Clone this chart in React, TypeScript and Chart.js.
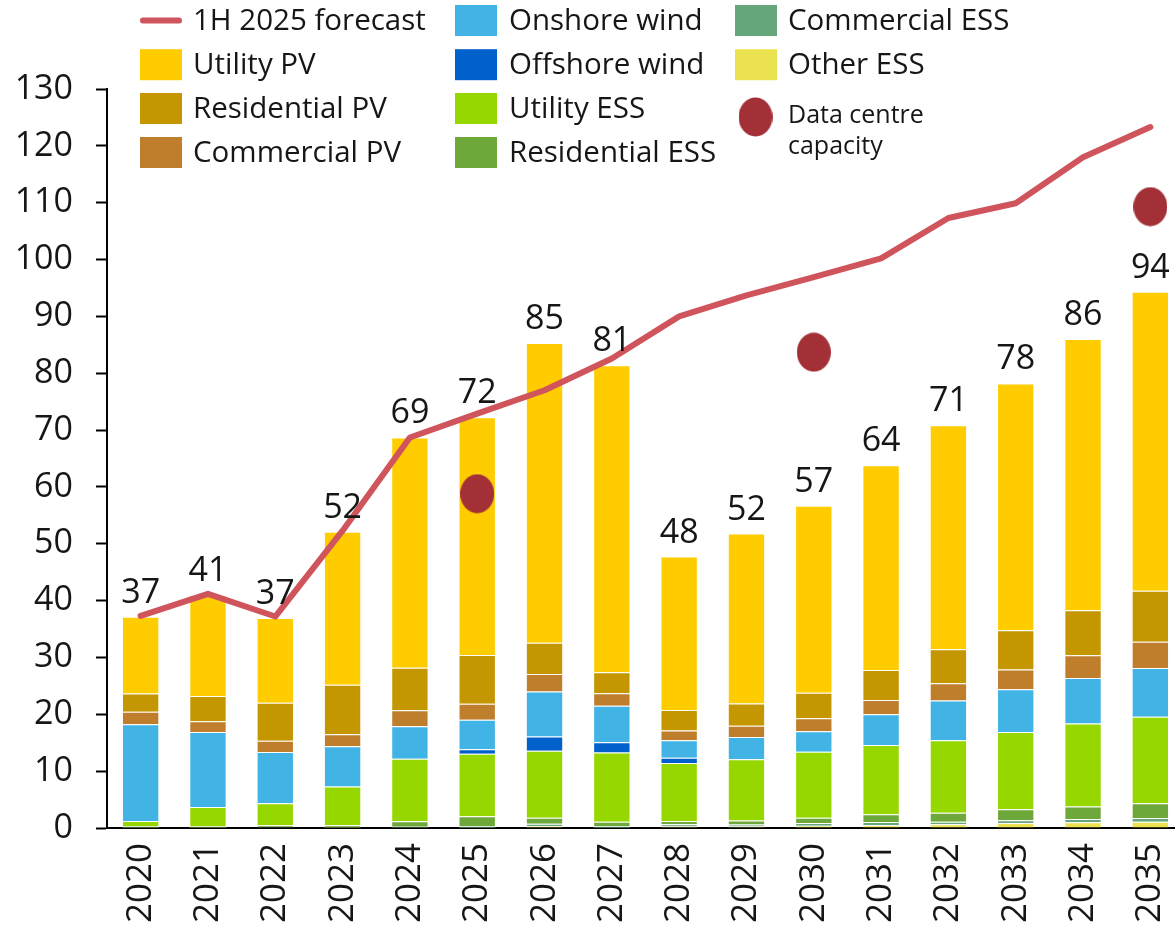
import { useEffect, useRef } from "react";
import { Chart, registerables } from "chart.js";

Chart.register(...registerables);

// ---------- DATA ----------
const years = ["2020", "2021", "2022", "2023", "2024", "2025", "2026", "2027", "2028", "2029", "2030", "2031", "2032", "2033", "2034", "2035"];

const otherESS = [0.02, 0.02, 0.05, 0.02, 0.05, 0.05, 0.35, 0.05, 0.25, 0.25, 0.4, 0.5, 0.65, 0.9, 1.0, 1.1];
const commercialESS = [0.08, 0.08, 0.1, 0.08, 0.15, 0.3, 0.4, 0.3, 0.4, 0.35, 0.5, 0.55, 0.45, 0.45, 0.6, 0.65];
const residentialESS = [0.25, 0.2, 0.35, 0.4, 1.0, 1.7, 1.05, 0.75, 0.6, 0.7, 0.9, 1.35, 1.6, 1.95, 2.2, 2.6];
const utilityESS = [0.9, 3.4, 3.85, 6.8, 11.0, 11.0, 11.8, 12.2, 10.2, 10.8, 11.6, 12.2, 12.75, 13.6, 14.6, 15.2];
const offshoreWind = [0, 0, 0, 0, 0, 0.8, 2.5, 1.8, 0.9, 0, 0, 0, 0, 0, 0, 0];
const onshoreWind = [17.0, 13.2, 9.0, 7.1, 5.7, 5.2, 7.9, 6.4, 3.1, 3.9, 3.6, 5.4, 7.0, 7.5, 8.0, 8.6];
const commercialPV = [2.2, 1.9, 2.0, 2.1, 2.8, 2.8, 3.1, 2.2, 1.7, 2.0, 2.3, 2.5, 3.0, 3.5, 4.0, 4.6];
const residentialPV = [3.2, 4.4, 6.7, 8.7, 7.5, 8.6, 5.5, 3.7, 3.6, 3.9, 4.5, 5.3, 6.0, 6.9, 7.9, 9.0];
const utilityPV = [13.5, 17.8, 14.9, 26.9, 40.5, 41.8, 52.7, 54.0, 27.0, 29.9, 32.9, 36.0, 39.4, 43.4, 47.7, 52.6];

const forecast1H2025 = [37.3, 41.2, 37.2, 52.3, 68.7, 72.9, 77.0, 82.6, 90.0, 93.7, 96.9, 100.2, 107.3, 109.9, 118.0, 123.3];
const dataCentreCapacity = [null, null, null, null, null, 58.8, null, null, null, null, 83.7, null, null, null, null, 109.3];

const yTickValues = [0, 10, 20, 30, 40, 50, 60, 70, 80, 90, 100, 110, 120, 130];

// ---------- STYLE ----------
const FONT = "'Open Sans', Roboto, sans-serif";
const TEXT = "#161616";
const C = {
  utilityPV: "#FFCC00",
  residentialPV: "#C49600",
  commercialPV: "#BF7E2B",
  onshore: "#41B3E4",
  offshore: "#0061CC",
  utilityESS: "#97D700",
  residentialESS: "#6FA83A",
  commercialESS: "#66A67B",
  otherESS: "#EAE250",
  line: "#D0545C",
  dc: "#A33037",
};

export default function App() {
  const ref = useRef<HTMLCanvasElement>(null);

  useEffect(() => {
    const canvas = ref.current!;
    const dot = document.createElement("canvas");
    dot.width = 34;
    dot.height = 40;
    const dctx = dot.getContext("2d")!;
    dctx.fillStyle = C.dc;
    dctx.beginPath();
    dctx.ellipse(17, 20, 17, 19.5, 0, 0, Math.PI * 2);
    dctx.fill();

    const bar = (label: string, data: number[], color: string) => ({
      type: "bar" as const,
      label,
      data,
      backgroundColor: color,
      borderColor: "rgba(255,255,255,0.3)",
      borderWidth: 1,
      stack: "bars",
      order: 2,
      barPercentage: 0.555,
      categoryPercentage: 1,
    });

    const barSets = [
      bar("Other ESS", otherESS, C.otherESS),
      bar("Commercial ESS", commercialESS, C.commercialESS),
      bar("Residential ESS", residentialESS, C.residentialESS),
      bar("Utility ESS", utilityESS, C.utilityESS),
      bar("Offshore wind", offshoreWind, C.offshore),
      bar("Onshore wind", onshoreWind, C.onshore),
      bar("Commercial PV", commercialPV, C.commercialPV),
      bar("Residential PV", residentialPV, C.residentialPV),
      bar("Utility PV", utilityPV, C.utilityPV),
    ];

    const lineSets: any[] = [
      {
        type: "line",
        label: "1H 2025 forecast",
        data: forecast1H2025,
        borderColor: C.line,
        backgroundColor: C.line,
        borderWidth: 6,
        pointRadius: 0,
        tension: 0,
        borderCapStyle: "round",
        borderJoinStyle: "round",
        stack: "line",
        order: 1,
      },
      {
        type: "line",
        label: "Data centre capacity",
        data: dataCentreCapacity,
        showLine: false,
        pointStyle: dot,
        pointRadius: 17,
        stack: "dc",
        order: 0,
      },
    ];

    const totalsPlugin = {
      id: "totals",
      afterDatasetsDraw(chart: any) {
        const ctx = chart.ctx;
        const topIdx = lineSets.length + barSets.length - 1;
        const meta = chart.getDatasetMeta(topIdx);
        ctx.save();
        ctx.font = `34px ${FONT}`;
        ctx.fillStyle = TEXT;
        ctx.textAlign = "center";
        ctx.textBaseline = "alphabetic";
        meta.data.forEach((el: any, i: number) => {
          let total = 0;
          barSets.forEach((ds) => (total += ds.data[i]));
          ctx.fillText(String(Math.round(total)), el.x, el.y - 14);
        });
        ctx.restore();
      },
    };

    const legendPlugin = {
      id: "customLegend",
      afterDraw(chart: any) {
        const ctx = chart.ctx;
        const rows = [20.5, 64.7, 108.5, 152.5];
        const swX = [140, 455, 735];
        const txX = [193, 509, 788];
        const sw = 42;
        const sh = 31;
        ctx.save();
        ctx.font = `29.5px ${FONT}`;
        ctx.fillStyle = TEXT;
        ctx.textBaseline = "middle";
        ctx.textAlign = "left";
        const boxItem = (col: number, row: number, label: string, color: string) => {
          ctx.fillStyle = color;
          ctx.fillRect(swX[col], rows[row] - sh / 2, sw, sh);
          ctx.fillStyle = TEXT;
          ctx.fillText(label, txX[col], rows[row] + 1);
        };
        ctx.strokeStyle = C.line;
        ctx.lineWidth = 6;
        ctx.lineCap = "round";
        ctx.beginPath();
        ctx.moveTo(swX[0] + 3, rows[0]);
        ctx.lineTo(swX[0] + sw - 3, rows[0]);
        ctx.stroke();
        ctx.fillStyle = TEXT;
        ctx.fillText("1H 2025 forecast", txX[0], rows[0] + 1);
        boxItem(0, 1, "Utility PV", C.utilityPV);
        boxItem(0, 2, "Residential PV", C.residentialPV);
        boxItem(0, 3, "Commercial PV", C.commercialPV);
        boxItem(1, 0, "Onshore wind", C.onshore);
        boxItem(1, 1, "Offshore wind", C.offshore);
        boxItem(1, 2, "Utility ESS", C.utilityESS);
        boxItem(1, 3, "Residential ESS", C.residentialESS);
        boxItem(2, 0, "Commercial ESS", C.commercialESS);
        boxItem(2, 1, "Other ESS", C.otherESS);
        ctx.drawImage(dot, 755.5 - 17, 117 - 20);
        ctx.font = `25px ${FONT}`;
        ctx.fillStyle = TEXT;
        ctx.fillText("Data centre", txX[2], 116);
        ctx.fillText("capacity", txX[2], 147);
        ctx.restore();
      },
    };

    const chart = new Chart(canvas, {
      data: {
        labels: years,
        datasets: [...lineSets, ...barSets],
      },
      options: {
        responsive: false,
        animation: false,
        layout: { padding: { top: 89, right: 6, left: 0, bottom: 0 } },
        plugins: {
          legend: { display: false },
          tooltip: { enabled: false },
        },
        scales: {
          x: {
            type: "category",
            offset: true,
            stacked: true,
            grid: { display: false, drawTicks: false },
            border: { display: true, color: "#000", width: 2 },
            ticks: {
              autoSkip: false,
              minRotation: 90,
              maxRotation: 90,
              padding: 15,
              color: TEXT,
              font: { family: FONT, size: 35 },
            },
            afterFit(scale: any) {
              scale.height = 97;
              scale.paddingLeft = 0;
              scale.paddingRight = 0;
            },
          },
          y: {
            min: 0,
            max: 130,
            stacked: true,
            afterBuildTicks(scale: any) {
              scale.ticks = yTickValues.map((v) => ({ value: v }));
            },
            grid: {
              display: true,
              drawOnChartArea: false,
              drawTicks: true,
              tickLength: 11,
              tickColor: "#000",
              tickWidth: 2,
            },
            border: { display: true, color: "#000", width: 2 },
            ticks: {
              padding: 23,
              color: TEXT,
              font: { family: FONT, size: 34 },
            },
            afterFit(scale: any) {
              scale.width = 107;
            },
          },
        },
      } as any,
      plugins: [totalsPlugin, legendPlugin],
    });

    return () => chart.destroy();
  }, []);

  return (
    <div
      style={{
        position: "absolute",
        left: 0,
        top: 0,
        width: 1175,
        height: 925,
        overflow: "hidden",
        background: "#fff",
      }}
    >
      <canvas ref={ref} width={1202} height={925} style={{ display: "block", width: 1202, height: 925 }} />
    </div>
  );
}
